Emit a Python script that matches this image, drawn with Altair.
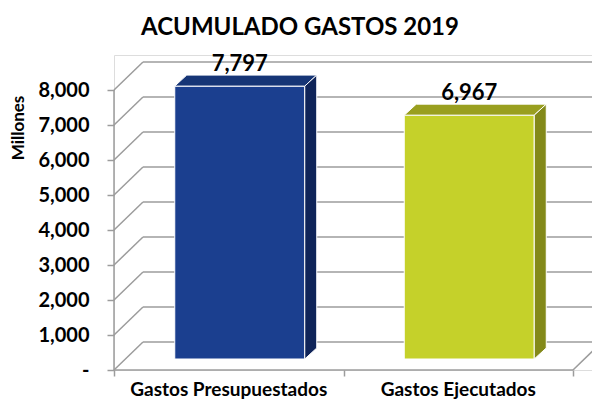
import altair as alt
import pandas as pd

# ---------------- data ----------------
categories = ["Gastos Presupuestados", "Gastos Ejecutados"]
values = [7797, 6967]
front_colors = ["#1B3F8F", "#C5D12A"]
top_colors = ["#163576", "#999F1F"]
side_colors = ["#0F2459", "#838919"]
y_ticks = [0, 1000, 2000, 3000, 4000, 5000, 6000, 7000, 8000]
title_text = "ACUMULADO GASTOS 2019"
y_title = "Millones"

# ---------------- geometry (scale units) ----------------
W, H = 478, 315
PX_CAT = 229.5                # pixels per category
XMAX = W / PX_CAT
YMAX = 9000
PX_VAL = H / YMAX
BACK_DX = 29 / PX_CAT
BACK_DY = 28 / PX_VAL
BAR_DX0 = 11 / PX_CAT
BAR_DY0 = 11 / PX_VAL
DEPTH_DX = 12 / PX_CAT
DEPTH_DY = 11 / PX_VAL
HALF = 65 / PX_CAT
NCAT = len(categories)

GRID = "#9C9C9C"
FONT = "Lato"

xs = alt.Scale(domain=[0, XMAX], nice=False, zero=False)
ys = alt.Scale(domain=[0, YMAX], nice=False, zero=False)

# bars
bar_rows, top_rows, side_rows, lab_rows = [], [], [], []
for i, (c, v) in enumerate(zip(categories, values)):
    cx = i + 0.5 + BAR_DX0
    x0, x1 = cx - HALF, cx + HALF
    bar_rows.append(dict(cat=c, col=front_colors[i], x=x0, x2=x1, y=BAR_DY0, y2=v + BAR_DY0))
    top_rows.append(dict(cat=c, col=top_colors[i], y=v + BAR_DY0, x=x0, x2=x1))
    top_rows.append(dict(cat=c, col=top_colors[i], y=v + BAR_DY0 + DEPTH_DY,
                         x=x0 + DEPTH_DX, x2=x1 + DEPTH_DX))
    side_rows.append(dict(cat=c, col=side_colors[i], x=x1, y=BAR_DY0, y2=v + BAR_DY0))
    side_rows.append(dict(cat=c, col=side_colors[i], x=x1 + DEPTH_DX, y=BAR_DY0 + DEPTH_DY,
                          y2=v + BAR_DY0 + DEPTH_DY))
    lab_rows.append(dict(cat=c, x=cx, y=v + BAR_DY0 + DEPTH_DY, txt=f"{v:,}"))

bars = pd.DataFrame(bar_rows)
tops = pd.DataFrame(top_rows)
sides = pd.DataFrame(side_rows)
labs = pd.DataFrame(lab_rows)
cats = pd.DataFrame(dict(cat=categories, x=[i + 0.5 for i in range(NCAT)], y=[0] * NCAT))

# grid lines (left wall diagonals + back wall horizontals)
grid_rows = []
for v in y_ticks:
    grid_rows.append(dict(x=0, y=v, x2=BACK_DX, y2=v + BACK_DY))
    grid_rows.append(dict(x=BACK_DX, y=v + BACK_DY, x2=NCAT + BACK_DX, y2=v + BACK_DY))
# floor front edge, floor right edge, left wall front edge
grid_rows.append(dict(x=0, y=0, x2=NCAT, y2=0))
grid_rows.append(dict(x=NCAT, y=0, x2=NCAT + BACK_DX, y2=BACK_DY))
grid_rows.append(dict(x=0, y=0, x2=0, y2=y_ticks[-1]))
grid = pd.DataFrame(grid_rows)

X_AXIS = alt.Axis(values=list(range(NCAT + 1)), labels=False, domain=False, grid=False,
                  ticks=True, tickSize=6, tickColor=GRID, tickWidth=1.5, title=None)
Y_AXIS = alt.Axis(values=y_ticks, domain=False, grid=False, tickSize=7, tickColor=GRID,
                  tickWidth=1.5, labelPadding=18, labelFontSize=20, labelFont=FONT,
                  labelFontWeight="bold", labelColor="black",
                  labelExpr="datum.value == 0 ? '-' : format(datum.value, ',')",
                  title=None)


def X(f="x:Q"):
    return alt.X(f, scale=xs, axis=X_AXIS, stack=None)


def Y(f="y:Q"):
    return alt.Y(f, scale=ys, axis=Y_AXIS, stack=None)


grid_layer = alt.Chart(grid).mark_rule(color=GRID, strokeWidth=1.5).encode(
    x=X(), x2="x2:Q", y=Y(), y2="y2:Q",
)

front = alt.Chart(bars).mark_rect(stroke="white", strokeWidth=1).encode(
    x=X(), x2="x2:Q", y=Y(), y2="y2:Q",
    color=alt.Color("col:N", scale=None),
)

top = alt.Chart(tops).mark_area(orient="horizontal", stroke="white", strokeWidth=1).encode(
    y=Y(), x=X(), x2="x2:Q",
    color=alt.Color("col:N", scale=None), detail="cat:N",
)

side = alt.Chart(sides).mark_area(orient="vertical", stroke="white", strokeWidth=1).encode(
    x=X(), y=Y(), y2="y2:Q",
    color=alt.Color("col:N", scale=None), detail="cat:N",
)

value_labels = alt.Chart(labs).mark_text(
    font=FONT, fontSize=22, fontWeight="bold", color="black", baseline="alphabetic", dy=-4
).encode(x=X(), y=Y(), text="txt:N")

cat_labels = alt.Chart(cats).mark_text(
    font=FONT, fontSize=19, fontWeight="bold", color="black", baseline="alphabetic", dy=26
).encode(x=X(), y=Y(), text="cat:N")

y_title_layer = alt.Chart(pd.DataFrame({"t": [y_title]})).mark_text(
    font=FONT, fontSize=17, fontWeight="bold", color="black", angle=270,
    align="center", baseline="middle"
).encode(x=alt.value(-95), y=alt.value(73), text="t:N")

chart = alt.layer(grid_layer, front, top, side, value_labels, cat_labels, y_title_layer).properties(
    width=W, height=H,
    autosize="none",
    padding={"left": 106, "top": 47, "right": 0, "bottom": 29},
    title=alt.Title(title_text, font=FONT, fontSize=24, fontWeight="bold", color="black",
                    anchor="middle", frame="group", dx=-53, offset=13),
).configure_view(stroke=None).configure(background="white")

chart.save("out.html", embed_options={"renderer": "svg", "actions": False})
